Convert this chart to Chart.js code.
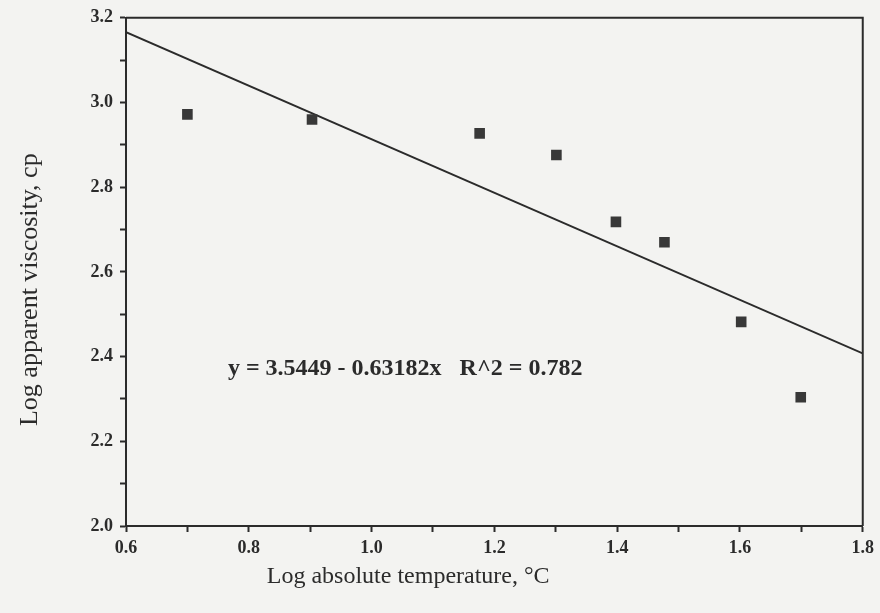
<!DOCTYPE html>
<html>
<head>
<meta charset="utf-8">
<script src="https://cdn.jsdelivr.net/npm/chart.js@4.4.1/dist/chart.umd.min.js"></script>
<style>
  html, body { margin: 0; padding: 0; background: #f3f3f1; }
  #wrap { width: 880px; height: 613px; }
</style>
</head>
<body>
<div id="wrap"><canvas id="chart"></canvas></div>
<script>
// measured points (log T, log viscosity)
const logTemp = [0.70, 0.903, 1.176, 1.301, 1.398, 1.477, 1.602, 1.699];
const logVisc = [2.972, 2.960, 2.927, 2.876, 2.718, 2.670, 2.482, 2.304];

// regression line end points
const fitX = [0.6, 1.8];
const fitY = [3.1658, 2.4076];

const fitLabel = 'y = 3.5449 - 0.63182x   R^2 = 0.782';
const labelPos = { x: 0.766, y: 2.372 };

const xTitle = 'Log absolute temperature, °C';
const yTitle = 'Log apparent viscosity, cp';

const ink = '#2b2b2b';
const serif = '"Liberation Serif", "Times New Roman", serif';

// frame on top/right, axis titles and the equation text
const extras = {
    id: 'extras',
    afterDraw(chart) {
        const { ctx, chartArea: a, scales } = chart;
        ctx.save();
        ctx.strokeStyle = ink;
        ctx.lineWidth = 2;
        ctx.beginPath();
        ctx.moveTo(a.left, a.top);
        ctx.lineTo(a.right, a.top);
        ctx.lineTo(a.right, a.bottom);
        ctx.stroke();

        ctx.fillStyle = ink;
        ctx.textBaseline = 'middle';
        ctx.font = 'bold 24px ' + serif;
        ctx.fillText(fitLabel, scales.x.getPixelForValue(labelPos.x), scales.y.getPixelForValue(labelPos.y));

        // titles sit a bit off-centre in the original scan
        ctx.font = '24px ' + serif;
        ctx.textAlign = 'center';
        ctx.fillText(xTitle, a.left + (a.right - a.left) * 0.383, a.bottom + 51);

        ctx.font = '26px ' + serif;
        ctx.translate(30, a.top + (a.bottom - a.top) * 0.535);
        ctx.rotate(-Math.PI / 2);
        ctx.fillText(yTitle, 0, 0);
        ctx.restore();
    }
};

new Chart(document.getElementById('chart'), {
    type: 'scatter',
    data: {
        datasets: [
            {
                label: 'data',
                data: logTemp.map((x, i) => ({ x: x, y: logVisc[i] })),
                pointStyle: 'rect',
                pointRadius: 7.5,
                backgroundColor: '#383838',
                borderColor: '#383838',
                borderWidth: 0
            },
            {
                label: 'fit',
                type: 'line',
                data: fitX.map((x, i) => ({ x: x, y: fitY[i] })),
                borderColor: ink,
                borderWidth: 2,
                pointRadius: 0,
                fill: false
            }
        ]
    },
    options: {
        responsive: true,
        maintainAspectRatio: false,
        animation: false,
        layout: { padding: { top: 16, right: 17, left: 0, bottom: 0 } },
        plugins: {
            legend: { display: false },
            tooltip: { enabled: false }
        },
        scales: {
            x: {
                type: 'linear',
                min: 0.6,
                max: 1.8,
                afterFit: s => { s.height = 87; },
                border: { color: ink, width: 2 },
                grid: { drawOnChartArea: false, color: ink, tickLength: 6, tickWidth: 2 },
                ticks: {
                    stepSize: 0.1,
                    color: ink,
                    padding: 6,
                    maxRotation: 0,
                    font: { family: serif, size: 18, weight: 'bold' },
                    callback: v => (Math.round(v * 10) % 2 === 0 ? v.toFixed(1) : '')
                }
            },
            y: {
                type: 'linear',
                min: 2.0,
                max: 3.2,
                afterFit: s => { s.width = 126; },
                border: { color: ink, width: 2 },
                grid: { drawOnChartArea: false, color: ink, tickLength: 6, tickWidth: 2 },
                ticks: {
                    stepSize: 0.1,
                    color: ink,
                    padding: 7,
                    font: { family: serif, size: 18, weight: 'bold' },
                    callback: v => (Math.round(v * 10) % 2 === 0 ? v.toFixed(1) : '')
                }
            }
        }
    },
    plugins: [extras]
});
</script>
</body>
</html>
